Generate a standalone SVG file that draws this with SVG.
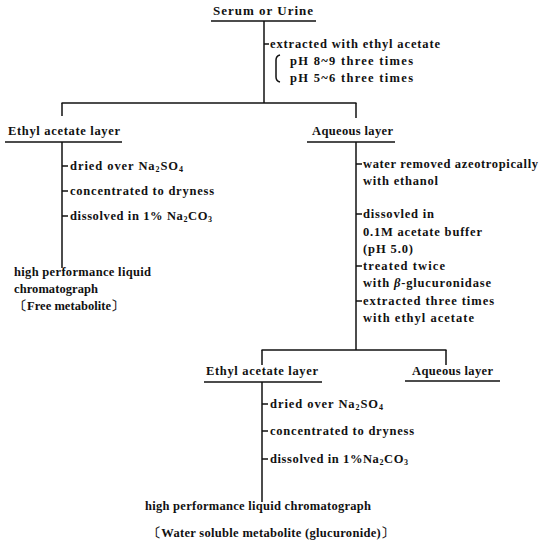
<svg xmlns="http://www.w3.org/2000/svg" width="539" height="548" viewBox="0 0 539 548">
<style>
text{font-family:"Liberation Serif","Times New Roman",serif;font-size:12.5px;font-weight:bold;fill:#111}
.t{font-size:13px}
.sub{font-size:8px}
line,path{stroke:#111;stroke-width:1.5;fill:none}
</style>
<rect width="539" height="548" fill="#fff"/>
<g id="connectors">
<line x1="264" y1="21" x2="264" y2="103"/>
<line x1="264" y1="44" x2="269" y2="44"/>
<path d="M280 55 Q276 56 276 60 L276 77 Q276 81 280 82" stroke-width="1"/>
<line x1="61.5" y1="103" x2="356.5" y2="103"/>
<line x1="62" y1="103" x2="62" y2="116"/>
<line x1="356" y1="103" x2="356" y2="118"/>
<line x1="62" y1="142" x2="62" y2="268"/>
<line x1="62" y1="166" x2="68" y2="166"/>
<line x1="62" y1="191" x2="68" y2="191"/>
<line x1="62" y1="216" x2="68" y2="216"/>
<line x1="356" y1="142" x2="356" y2="350"/>
<line x1="356" y1="164" x2="362" y2="164"/>
<line x1="356" y1="214" x2="362" y2="214"/>
<line x1="356" y1="266" x2="362" y2="266"/>
<line x1="356" y1="301" x2="362" y2="301"/>
<line x1="261.5" y1="350" x2="446.5" y2="350"/>
<line x1="262" y1="350" x2="262" y2="365"/>
<line x1="446" y1="350" x2="446" y2="365"/>
<line x1="262" y1="382" x2="262" y2="502"/>
<line x1="262" y1="404" x2="268" y2="404"/>
<line x1="262" y1="431" x2="268" y2="431"/>
<line x1="262" y1="459" x2="268" y2="459"/>
</g>
<g id="serum">
<text class="t" x="213" y="15" textLength="100" lengthAdjust="spacing">Serum or Urine</text>
<line x1="211" y1="21" x2="316" y2="21"/>
</g>
<g id="step1">
<text x="270" y="48" textLength="170" lengthAdjust="spacing">extracted with ethyl acetate</text>
<text x="290" y="65" textLength="123" lengthAdjust="spacing">pH 8~9 three times</text>
<text x="290" y="82" textLength="123" lengthAdjust="spacing">pH 5~6 three times</text>
</g>
<g id="ethyl1">
<text x="8" y="135" textLength="112" lengthAdjust="spacing">Ethyl acetate layer</text>
<line x1="5" y1="142" x2="122" y2="142"/>
</g>
<g id="aqueous1">
<text x="312" y="135" textLength="81" lengthAdjust="spacing">Aqueous layer</text>
<line x1="307" y1="142" x2="395" y2="142"/>
</g>
<g id="ethyl1steps">
<text x="70" y="170" textLength="113" lengthAdjust="spacing">dried over Na<tspan class="sub" dy="2">2</tspan><tspan dy="-2">SO</tspan><tspan class="sub" dy="2">4</tspan></text>
<text x="70" y="195" textLength="144" lengthAdjust="spacing">concentrated to dryness</text>
<text x="70" y="220" textLength="142" lengthAdjust="spacing">dissolved in 1% Na<tspan class="sub" dy="2">2</tspan><tspan dy="-2">CO</tspan><tspan class="sub" dy="2">3</tspan></text>
</g>
<g id="hplc1">
<text x="14" y="276" textLength="137" lengthAdjust="spacing">high performance liquid</text>
<text x="14" y="293" textLength="84" lengthAdjust="spacing">chromatograph</text>
<text x="14" y="310" textLength="110" lengthAdjust="spacing">〔Free metabolite〕</text>
</g>
<g id="aqueous1steps">
<text x="363" y="168" textLength="175" lengthAdjust="spacing">water removed azeotropically</text>
<text x="363" y="185" textLength="75" lengthAdjust="spacing">with ethanol</text>
<text x="363" y="218" textLength="71" lengthAdjust="spacing">dissovled in</text>
<text x="363" y="236" textLength="119" lengthAdjust="spacing">0.1M acetate buffer</text>
<text x="363" y="253" textLength="50" lengthAdjust="spacing">(pH 5.0)</text>
<text x="363" y="270" textLength="82" lengthAdjust="spacing">treated twice</text>
<text x="363" y="287" textLength="128" lengthAdjust="spacing">with <tspan font-style="italic">β</tspan>-glucuronidase</text>
<text x="363" y="305" textLength="131" lengthAdjust="spacing">extracted three times</text>
<text x="363" y="322" textLength="111" lengthAdjust="spacing">with ethyl acetate</text>
</g>
<g id="ethyl2">
<text x="206" y="375" textLength="112" lengthAdjust="spacing">Ethyl acetate layer</text>
<line x1="204" y1="382" x2="322" y2="382"/>
</g>
<g id="aqueous2">
<text x="412" y="375" textLength="81" lengthAdjust="spacing">Aqueous layer</text>
<line x1="405" y1="381" x2="500" y2="381"/>
</g>
<g id="ethyl2steps">
<text x="270" y="408" textLength="113" lengthAdjust="spacing">dried over Na<tspan class="sub" dy="2">2</tspan><tspan dy="-2">SO</tspan><tspan class="sub" dy="2">4</tspan></text>
<text x="270" y="435" textLength="144" lengthAdjust="spacing">concentrated to dryness</text>
<text x="270" y="463" textLength="138" lengthAdjust="spacing">dissolved in 1%Na<tspan class="sub" dy="2">2</tspan><tspan dy="-2">CO</tspan><tspan class="sub" dy="2">3</tspan></text>
</g>
<g id="hplc2">
<text x="145" y="510" textLength="226" lengthAdjust="spacing">high performance liquid chromatograph</text>
<text x="148" y="537" textLength="246" lengthAdjust="spacing">〔Water soluble metabolite (glucuronide)〕</text>
</g>
</svg>
